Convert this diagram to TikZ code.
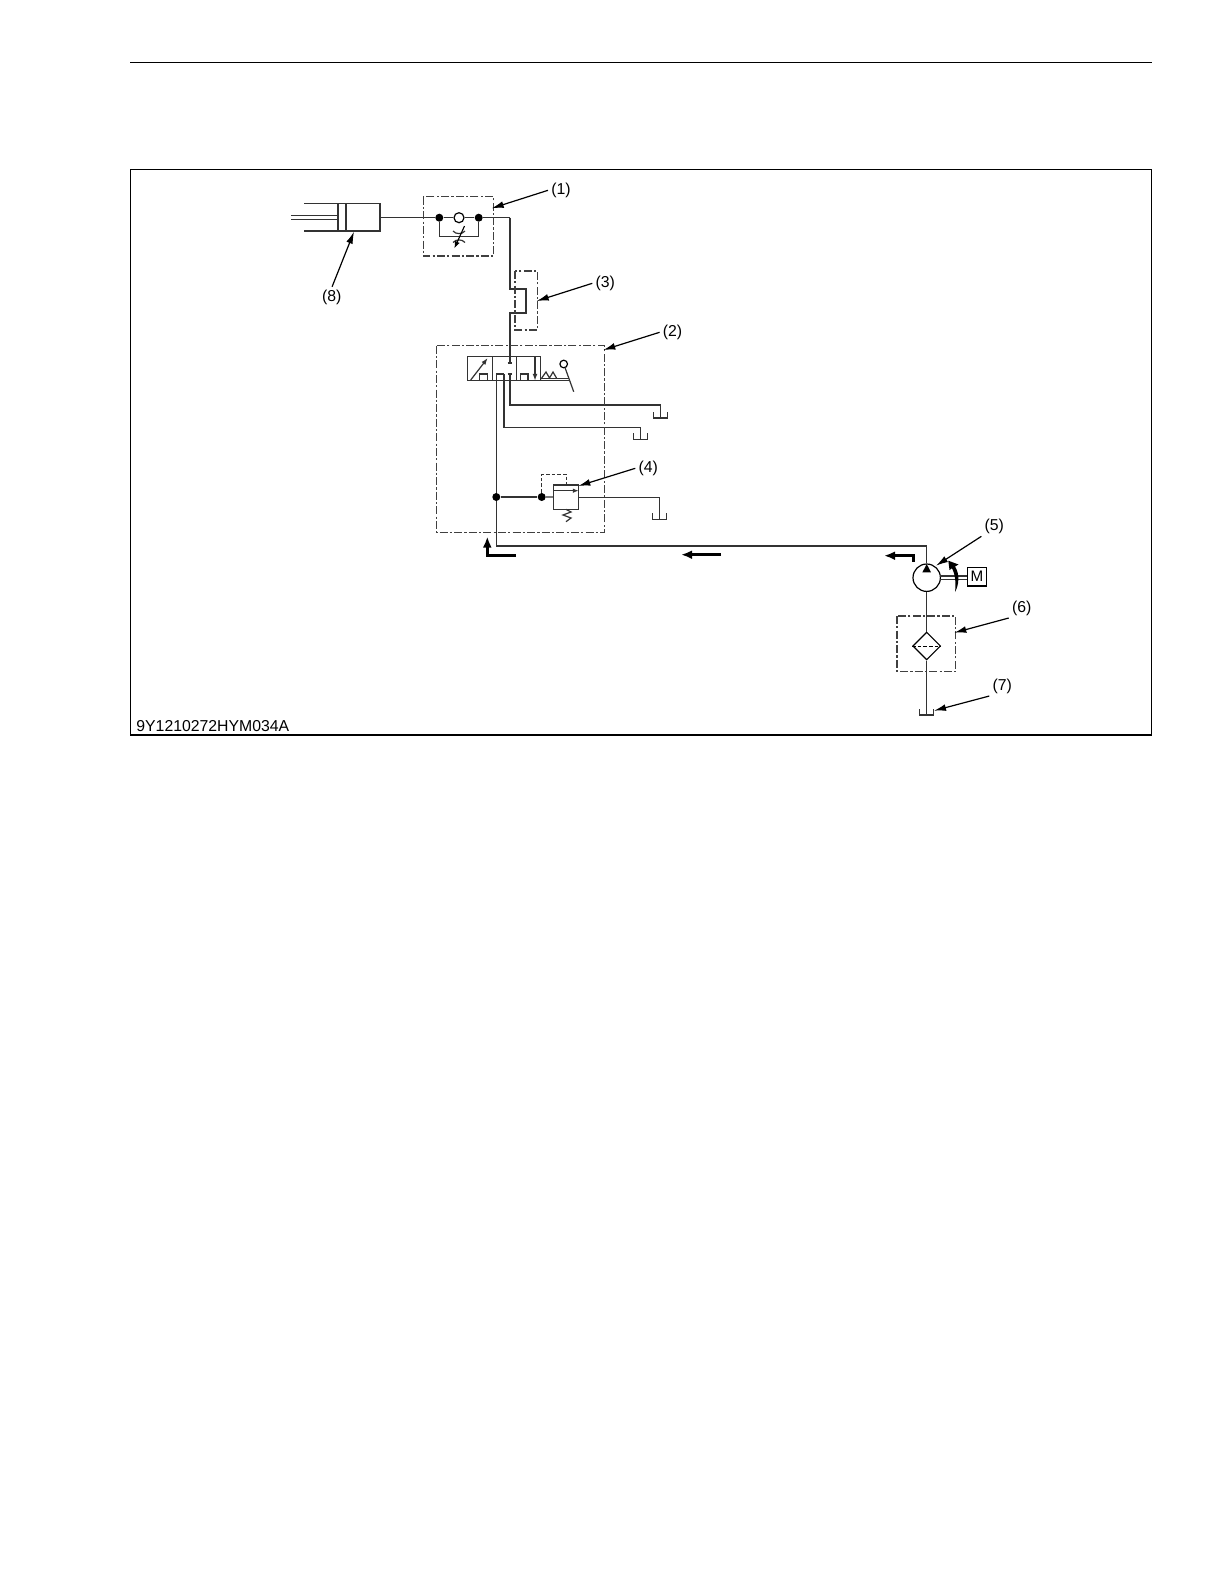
\documentclass[tikz,border=0pt]{standalone}
\usepackage{fontspec}
\setmainfont{Liberation Sans}
\usepackage{tikz}
\usetikzlibrary{arrows.meta,shapes.geometric}

\tikzset{
	pipe/.style={line width=0.6bp,color=black!80},
	group/.style={line width=0.55bp,color=black!75,dash pattern=on 4bp off 1.1bp on 1.1bp off 1.1bp},
	pilot/.style={line width=0.55bp,color=black!80,dash pattern=on 1.8bp off 1bp},
	leader/.style={line width=0.6bp,-{Latex[length=6bp,width=3.4bp]},shorten <=0.5bp},
	flow/.style={line width=1.35bp,-{Latex[length=5.5bp,width=4.4bp]}},
	tag/.style={font=\fontsize{7.9bp}{9.5bp}\selectfont,inner sep=1bp},
	joint/.style={circle,fill=black,inner sep=0pt,minimum size=4bp},
	ball/.style={circle,draw,fill=white,line width=0.6bp,inner sep=0pt},
}

\begin{document}
\begin{tikzpicture}[x=0.5bp,y=-0.5bp]
\useasboundingbox (0,0) rectangle (1224,1584);
\fill[white] (0,0) rectangle (1224,1584);

% page rule and frame
\coordinate (ruleL) at (130,62.3);
\coordinate (ruleR) at (1151.5,62.3);
\draw[line width=0.65bp] (ruleL) -- (ruleR);
\draw[line width=0.6bp] (130.3,169.3) rectangle (1151.5,735);
\node[tag,anchor=west] (code) at (134,726) {9Y1210272HYM034A};

% cylinder
\coordinate (cylTL) at (304,203.7);
\coordinate (cylTR) at (380,203.7);
\coordinate (cylBR) at (380,231);
\coordinate (cylBL) at (304,231);
\coordinate (cylOut) at (380,217.7);
\draw[pipe] (cylTL) -- (cylTR) -- (cylBR) -- (cylBL);
\draw[pipe] (338,203.7) -- (338,231) (346,203.7) -- (346,231);
\draw[pipe] (291,215.8) -- (338,215.8) (291,219.6) -- (338,219.6);

% check valve and restrictor
\node[joint] (jcL) at (439.3,217.7) {};
\node[joint] (jcR) at (478.7,217.7) {};
\node[ball,minimum size=5bp] (check) at (459,217.7) {};
\coordinate (byL) at (439.3,236.7);
\coordinate (byR) at (478.7,236.7);
\coordinate (corner1) at (510,217.7);
\coordinate (loopT) at (510,289);
\coordinate (loopTR) at (526,289);
\coordinate (loopBR) at (526,313);
\coordinate (loopB) at (510,313);
\coordinate (stemEnd) at (510,363);
\path[pipe]
(cylOut) edge (jcL)
(jcL) edge (check)
(check) edge (jcR)
(jcR) edge (corner1)
(jcL) edge (byL)
(byL) edge (byR)
(byR) edge (jcR)
;
\draw[pipe] (corner1) -- (loopT) -- (loopTR) -- (loopBR) -- (loopB) -- (stemEnd);
\draw[pipe] (453,231) .. controls (456,234.5) and (462,234.5) .. (465,231);
\draw[pipe] (453,242.5) .. controls (456,239) and (462,239) .. (465,242.5);
\draw[line width=0.55bp,-{Latex[length=3.6bp,width=2.6bp]}] (464.5,226) -- (454.3,248.5);

% control valve
\draw[pipe] (467.7,356.7) rectangle (540.7,380.7);
\draw[pipe] (492.3,356.7) -- (492.3,380.7) (516.3,356.7) -- (516.3,380.7);
\draw[pipe] (479.3,380.7) -- (479.3,374) -- (487.3,374) -- (487.3,380.7);
\draw[pipe] (520.3,380.7) -- (520.3,374) -- (528,374) -- (528,380.7);
\draw[pipe,-{Latex[length=3.4bp,width=2.4bp]}] (470.7,380) -- (487.7,358);
\draw[pipe,-{Latex[length=3.4bp,width=2.4bp]}] (535,356.7) -- (535,380.7);
\draw[pipe] (507.6,363) -- (512.4,363) (507.6,374) -- (512.4,374);
\draw[pipe] (541,379) -- (546,372) -- (549.5,378) -- (553,372) -- (556.5,378);
\draw[pipe] (540.7,378.2) -- (568.5,378.2);
\draw[pipe] (540.7,380.7) -- (568.5,380.7);
\node[ball,minimum size=3.8bp] (knob) at (563.7,364) {};
\coordinate (leverEnd) at (573.7,391.7);
\draw[pipe] (knob) -- (leverEnd);

% return lines
\coordinate (retA) at (510,374);
\coordinate (retAc) at (510,405);
\coordinate (retAt) at (660.7,405);
\coordinate (tankA) at (660.7,418);
\coordinate (retB) at (504,374);
\coordinate (retBc) at (504,427.3);
\coordinate (retBt) at (640.7,427.3);
\coordinate (tankB) at (640.7,439.3);
\draw[pipe] (retA) -- (retAc) -- (retAt) -- (tankA);
\draw[pipe] (retB) -- (retBc) -- (retBt) -- (tankB);
\draw[pipe] (496.3,374) -- (retB);

% relief valve
\node[joint] (jMain) at (496.3,497) {};
\node[joint] (jRel) at (541.7,497) {};
\node[draw,line width=0.6bp,color=black!80,minimum width=12.3bp,minimum height=12.2bp,inner sep=0pt] (relief) at (566,497.2) {};
\coordinate (relOut) at (659.7,497.2);
\coordinate (tankC) at (659.7,519.3);
\coordinate (pilotA) at (541.7,474.7);
\coordinate (pilotB) at (566.7,474.7);
\coordinate (pilotC) at (566.7,485);
\path[pipe]
(jMain) edge (jRel)
(jRel) edge (relief)
;
\draw[pipe] (relief) -- (relOut) -- (tankC);
\draw[pilot] (jRel) -- (pilotA) -- (pilotB) -- (pilotC);
\draw[pipe,-{Latex[length=3bp,width=2.2bp]}] (relief.west |- 0,490.7) -- (relief.east |- 0,490.7);
\draw[pipe] (566,509.3) -- (571,512) -- (563,515) -- (571,518) -- (566,521.7);

% tanks
\coordinate (tankD) at (926.7,715);
\foreach \t in {tankA,tankB,tankC,tankD}
	\draw[pipe] (\t) ++(-7,-6) -- ++(0,6) -- ++(14,0) -- ++(0,-6);

% pump, motor and filter
\node[ball,minimum size=13.7bp] (pump) at (926.7,577.7) {};
\node[draw,fill=white,line width=0.55bp,minimum width=9.7bp,minimum height=9.3bp,inner sep=0pt,font=\fontsize{7.6bp}{9bp}\selectfont] (motor) at (977,576.7) {M};
\node[diamond,draw,line width=0.6bp,minimum size=13.9bp,inner sep=0pt] (filter) at (926.7,646) {};
\coordinate (mainA) at (926.7,546);
\coordinate (mainB) at (496.3,546);
\coordinate (valveP) at (496.3,374);
\draw[pipe] (pump.north) -- (mainA) -- (mainB) -- (jMain) -- (valveP);
\path[pipe]
(pump) edge (filter)
(filter) edge (tankD)
;
\draw[line width=0.45bp,dash pattern=on 1.8bp off 1bp] (filter.west) -- (filter.east);
\fill (926.7,564) -- (931,572.3) -- (922.4,572.3) -- cycle;
\draw[pipe] (940.2,576) -- (motor.west |- 0,576) (940.2,579.4) -- (motor.west |- 0,579.4);
\fill (948.3,560.7) -- (958.5,564.5) -- (955,566.5) .. controls (960,574) and (959,585) .. (955,592) .. controls (956,584) and (955.5,575) .. (952,568.3) -- (949.5,570) -- cycle;

% group outlines
\draw[group] (423.3,196.7) rectangle (493.7,256);
\draw[group] (515,271) rectangle (537.3,330);
\draw[group] (436.7,345.7) rectangle (604.3,532.7);
\draw[group] (897,616) rectangle (955.7,671.3);

% flow direction
\coordinate (flowAa) at (516,555.3);
\coordinate (flowAb) at (487.3,555.3);
\coordinate (flowAc) at (487.3,536.5);
\coordinate (flowBa) at (721,554.7);
\coordinate (flowBb) at (681,554.7);
\coordinate (flowCa) at (913.3,561.7);
\coordinate (flowCb) at (913.3,555.7);
\coordinate (flowCc) at (884,555.7);
\draw[flow] (flowAa) -- (flowAb) -- (flowAc);
\draw[flow] (flowBa) -- (flowBb);
\draw[flow] (flowCa) -- (flowCb) -- (flowCc);

% item numbers
\node[tag] (lab1) at (561,190) {(1)};
\node[tag] (lab2) at (672.6,332) {(2)};
\node[tag] (lab3) at (605.3,283) {(3)};
\node[tag] (lab4) at (648.3,468) {(4)};
\node[tag] (lab5) at (994.3,526) {(5)};
\node[tag] (lab6) at (1021.7,608) {(6)};
\node[tag] (lab7) at (1002.3,686) {(7)};
\node[tag] (lab8) at (331.7,297.5) {(8)};
\coordinate (tip1) at (491.7,208.3);
\coordinate (tip2) at (603.3,350);
\coordinate (tip3) at (536.7,301);
\coordinate (tip4) at (578.3,486);
\coordinate (tip5) at (936,565.7);
\coordinate (tip6) at (954.3,632.7);
\coordinate (tip7) at (934,710.7);
\coordinate (tip8) at (354,231.7);
\path[leader]
(lab1.west) edge (tip1)
(lab2.west) edge (tip2)
(lab3.west) edge (tip3)
(lab4.west) edge (tip4)
(lab5.south west) edge (tip5)
(lab6.south west) edge (tip6)
(lab7.south west) edge (tip7)
(lab8.north) edge (tip8)
;
\end{tikzpicture}
\end{document}
